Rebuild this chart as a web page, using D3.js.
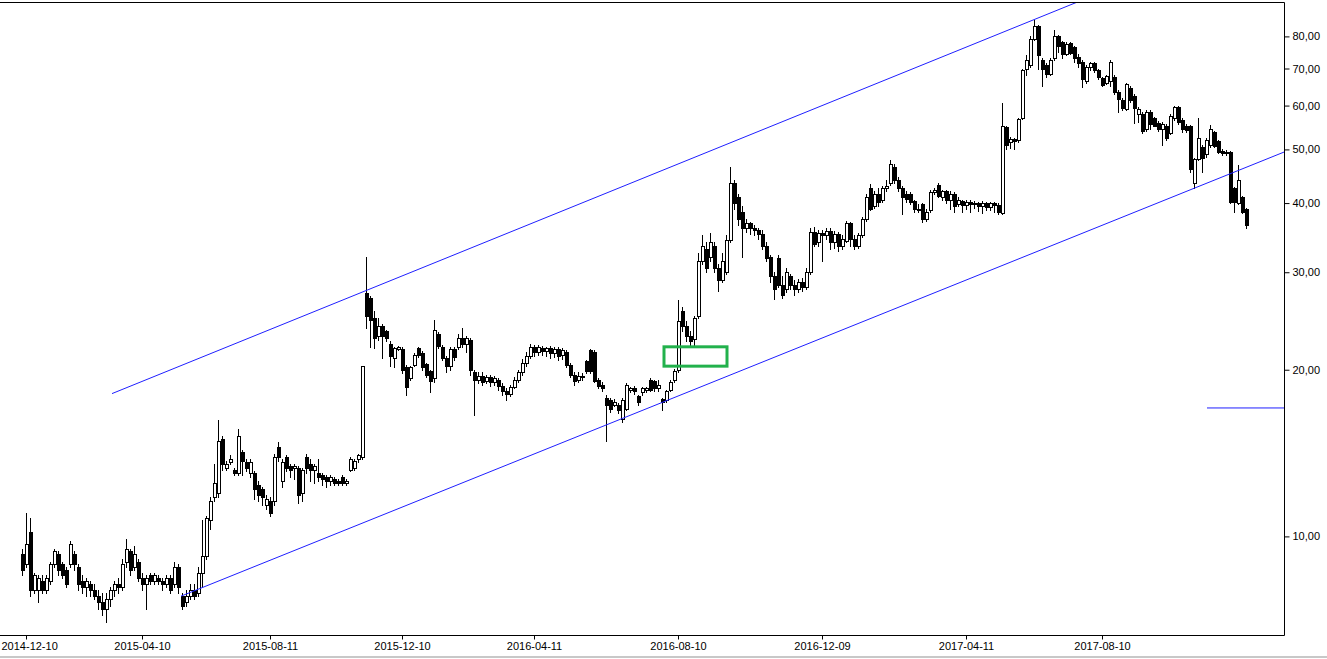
<!DOCTYPE html>
<html><head><meta charset="utf-8">
<script src="https://cdn.jsdelivr.net/npm/d3@7"></script>
<style>
html,body{margin:0;padding:0;background:#fff;overflow:hidden;}
svg{display:block;}
.axis text{font-family:"Liberation Sans",Arial,sans-serif;font-size:11px;fill:#000;}
</style></head><body>
<svg id="chart" width="1327" height="659"></svg>
<script>
// ---- data (bar index based, one candle per trading session) ----
const open=[
9.3,8.9,10.2,8.0,8.0,8.3,8.0,8.3,8.9,9.3,
8.9,8.7,8.9,9.3,8.8,8.3,8.1,8.2,8.0,7.8,
7.6,7.4,7.7,8.0,8.2,8.1,9.0,9.4,8.8,9.0,
8.4,8.2,8.5,8.3,8.4,8.3,8.2,8.4,8.2,8.8,
7.8,7.6,7.8,8.0,7.9,8.6,9.2,10.7,11.8,12.0,
15.0,13.3,13.6,13.2,13.0,14.2,13.6,13.0,13.0,12.4,
12.2,11.4,11.6,11.6,14.5,12.6,13.9,13.4,13.3,13.3,
12.0,13.9,13.5,13.2,13.0,12.9,12.8,12.6,12.7,12.6,
12.8,12.5,13.2,13.3,13.8,13.9,27.5,26.9,24.8,23.0,
24.0,23.5,22.3,21.0,21.8,21.8,20.2,19.3,20.4,21.9,
21.4,20.5,19.9,19.3,23.2,22.0,21.0,20.3,21.8,22.0,
22.8,22.3,22.6,19.8,19.2,19.5,19.1,19.4,19.0,19.2,
18.7,18.3,18.1,18.6,19.2,19.8,20.6,21.2,22.0,21.5,
21.9,21.6,21.9,21.4,21.8,21.3,21.5,20.4,19.6,19.2,
19.5,20.7,21.7,21.5,19.2,18.8,17.8,17.6,17.3,17.3,
16.3,17.0,18.4,18.5,17.9,18.2,18.4,19.2,19.1,18.5,
17.7,17.6,18.4,19.2,20.0,25.5,24.0,23.0,22.7,25.0,
31.5,33.0,32.0,33.5,30.5,29.0,30.0,34.3,43.5,41.0,
38.5,36.0,36.8,36.0,35.8,35.2,33.5,32.0,29.5,31.8,
28.5,28.0,29.5,28.5,28.0,28.8,28.2,30.0,35.5,34.0,
35.3,35.0,35.6,34.0,35.2,33.5,34.2,36.8,34.5,33.5,
35.0,37.5,42.5,39.5,41.5,40.5,42.5,43.5,46.5,44.0,
42.5,41.5,41.5,40.3,39.0,39.8,37.5,38.8,41.8,43.2,
41.0,42.0,40.5,41.5,39.8,40.3,39.6,40.2,39.8,40.0,
39.5,40.0,39.3,40.0,39.6,38.4,54.8,51.5,52.2,52.0,
57.0,70.0,71.0,79.0,83.5,72.5,71.0,68.5,73.0,80.0,
78.0,74.5,77.8,76.5,73.5,72.0,66.5,70.5,71.5,69.5,
67.2,66.0,66.5,67.5,63.5,61.5,59.2,64.5,62.5,58.0,
58.0,54.5,58.5,57.0,55.8,54.5,55.0,53.5,57.0,59.6,
56.5,55.0,55.0,43.5,48.0,50.5,49.0,51.0,53.7,51.8,
49.6,49.5,49.5,42.5,40.0,41.0,39.0];
const high=[
9.5,11.0,10.8,8.6,8.5,8.5,8.5,9.0,9.5,9.4,
9.0,8.8,9.8,9.4,8.9,8.5,8.4,8.3,8.2,8.0,
7.9,7.9,8.1,8.3,8.4,9.1,9.9,9.5,9.6,9.1,
8.6,8.5,8.6,8.6,8.5,8.4,8.5,8.5,9.0,8.9,
7.9,8.0,8.2,8.2,8.8,10.7,10.9,11.8,13.5,16.2,
15.2,13.7,14.0,13.3,15.6,14.3,13.8,13.8,13.1,12.6,
12.3,11.9,11.8,14.1,14.8,13.8,14.0,13.5,13.5,13.4,
13.3,14.1,13.8,13.5,13.8,13.0,12.9,12.9,12.8,12.7,
12.9,12.7,13.9,13.8,14.1,20.3,31.9,27.2,25.5,24.8,
24.2,23.6,22.5,22.0,22.1,22.0,20.4,20.3,21.4,22.0,
21.6,20.6,20.0,24.6,23.4,22.2,21.2,22.0,22.0,23.2,
23.8,23.0,22.8,20.0,19.8,19.8,19.6,19.6,19.5,19.3,
18.9,18.5,18.8,19.4,20.0,20.9,21.5,22.3,22.2,22.2,
22.1,22.0,22.1,22.0,22.0,21.9,21.7,20.6,19.8,19.8,
19.7,20.8,21.8,21.7,19.3,19.0,18.0,17.8,17.7,17.4,
17.8,18.9,18.6,18.7,18.0,18.6,18.6,19.3,19.2,19.2,
17.8,18.4,19.2,20.1,26.7,26.0,24.5,23.5,25.0,32.5,
35.0,34.0,35.3,34.0,31.0,32.5,35.0,46.5,44.0,41.5,
39.5,37.5,37.0,36.5,36.0,35.8,34.0,32.2,30.0,32.2,
29.5,30.5,29.8,29.0,29.2,29.3,30.5,36.0,36.2,35.8,
35.8,36.0,36.0,35.6,35.5,35.0,37.2,37.0,35.0,35.3,
37.8,41.5,43.3,42.0,42.5,43.0,44.0,47.8,47.0,44.5,
43.0,42.0,41.8,40.5,39.8,40.0,39.0,42.2,42.5,43.5,
42.3,42.3,42.0,41.8,41.0,40.5,40.5,40.5,40.3,40.2,
40.4,40.2,40.2,40.2,40.0,60.7,55.0,52.6,52.5,57.0,
70.0,74.0,80.0,85.6,84.0,73.0,71.5,73.0,82.0,80.5,
78.5,78.0,78.0,77.0,74.2,72.5,71.0,72.0,72.0,70.0,
67.6,68.2,72.5,68.0,64.0,62.0,65.8,65.0,63.0,59.6,
58.3,59.0,59.0,57.3,56.2,56.0,55.5,58.0,60.0,60.0,
57.0,55.5,55.3,48.3,57.0,51.0,52.5,55.3,54.0,52.0,
50.0,49.8,49.6,42.8,46.8,41.2,39.2];
const low=[
8.5,8.8,7.8,7.9,7.6,7.9,7.9,8.2,8.8,8.5,
8.4,8.1,8.8,8.7,8.0,7.9,7.8,7.8,7.7,7.4,
7.2,7.0,7.5,7.8,7.9,8.0,8.8,8.5,8.7,8.3,
8.0,7.4,8.2,8.2,8.2,8.0,8.1,7.9,8.1,7.9,
7.4,7.5,7.7,7.7,7.8,8.1,9.1,10.3,11.6,11.8,
13.2,13.2,13.5,12.9,12.9,12.9,13.1,12.8,11.7,11.6,
11.4,11.2,10.9,11.4,13.7,12.3,13.1,12.8,12.7,11.5,
11.6,13.0,12.6,12.5,12.6,12.4,12.3,12.4,12.4,12.4,
12.4,12.4,13.1,13.2,13.6,13.8,23.8,22.0,21.9,22.6,
21.0,22.5,20.3,20.2,21.7,19.7,18.0,19.2,20.3,21.1,
20.0,19.4,18.2,19.0,21.9,20.8,19.8,20.0,20.8,21.8,
22.0,21.5,19.6,16.6,18.9,18.8,18.9,18.7,18.8,18.4,
18.0,17.6,17.9,18.5,19.0,19.6,20.3,21.0,21.2,21.3,
21.3,21.2,21.0,21.1,20.8,20.9,20.2,19.4,18.8,19.0,
19.2,19.7,19.7,19.0,18.5,18.3,14.9,16.8,17.2,16.7,
16.1,16.9,18.2,18.1,17.3,18.0,18.2,18.3,18.3,18.3,
16.9,17.5,18.3,19.0,19.8,23.5,22.5,22.0,22.2,24.8,
31.0,30.0,31.5,30.0,27.7,28.8,29.8,34.0,39.0,36.5,
32.0,35.5,35.2,35.0,34.5,33.0,31.5,28.8,26.8,28.2,
27.0,27.6,28.0,27.3,27.6,27.8,28.0,29.8,33.5,33.5,
31.5,34.5,33.0,33.2,32.8,33.0,34.0,33.5,33.0,33.2,
34.8,37.2,38.8,39.2,39.5,40.2,42.0,43.2,43.5,42.0,
38.2,40.2,39.8,38.6,38.5,37.0,37.2,38.5,41.5,41.0,
40.5,40.0,39.0,38.5,39.5,38.6,39.0,38.6,39.2,38.7,
38.4,38.8,38.8,38.5,38.2,38.2,50.0,50.2,50.0,51.5,
56.8,68.0,70.5,78.8,70.0,65.2,67.5,68.0,72.5,75.0,
73.0,74.0,74.3,72.0,70.5,64.8,66.0,69.5,69.0,67.0,
65.0,65.5,65.0,63.0,58.4,59.0,59.0,61.0,55.8,56.0,
53.6,54.0,54.5,55.0,54.0,51.0,52.0,53.2,56.5,55.5,
53.8,53.8,45.5,42.5,47.8,45.5,48.5,50.5,50.5,49.2,
48.8,48.8,40.0,38.5,39.8,38.4,36.1];
const close=[
8.7,9.7,8.0,8.5,8.4,8.0,8.4,8.9,9.4,8.7,
8.5,8.2,9.7,8.9,8.2,8.1,8.3,8.0,7.8,7.6,
7.4,7.7,8.0,8.2,8.1,8.9,9.5,8.7,9.3,8.4,
8.2,8.4,8.3,8.5,8.3,8.2,8.4,8.0,8.8,8.1,
7.5,7.8,8.0,7.8,8.6,9.2,10.8,11.6,12.5,14.9,
13.5,13.5,13.8,13.0,15.2,13.7,13.3,13.6,12.2,11.9,
11.8,11.7,11.0,13.9,13.9,13.6,13.3,13.2,13.4,11.9,
13.2,13.3,13.2,13.4,12.8,12.7,12.6,12.8,12.5,12.5,
12.5,12.6,13.8,13.7,14.0,20.3,25.0,24.6,22.8,24.0,
23.0,22.8,21.2,21.9,22.0,20.0,18.6,20.2,21.3,21.3,
20.2,19.6,19.1,23.6,22.1,21.0,20.3,21.8,21.1,22.8,
22.3,22.8,20.0,19.2,19.5,19.0,19.4,19.0,19.3,18.7,
18.3,18.1,18.6,19.2,19.8,20.6,21.2,22.0,21.5,22.0,
21.6,21.9,21.4,21.8,21.2,21.7,20.4,19.6,19.1,19.5,
19.4,19.9,19.9,19.1,18.7,18.5,17.3,17.0,17.5,16.9,
17.6,18.8,18.5,18.3,17.5,18.5,18.5,18.4,18.5,18.8,
17.5,18.3,19.0,19.9,24.5,24.0,23.0,22.5,24.8,31.5,
33.5,30.5,34.0,30.5,29.0,31.5,34.3,43.5,40.0,37.5,
36.0,36.8,36.0,35.8,35.2,33.5,31.8,29.5,28.0,28.5,
27.3,30.0,28.5,28.0,28.8,28.2,30.0,35.5,33.8,35.3,
35.0,35.6,34.0,35.2,33.5,34.5,36.8,34.5,33.5,35.0,
37.5,41.0,39.0,41.5,40.2,42.5,43.0,47.0,44.0,42.5,
41.0,40.6,40.2,39.0,38.8,37.5,38.5,41.8,42.2,41.2,
42.0,40.5,41.5,39.5,40.5,39.6,40.2,39.8,40.0,39.5,
40.0,39.3,40.0,39.6,38.5,55.0,51.0,52.2,51.8,56.8,
69.5,72.5,79.0,83.5,74.0,70.0,68.5,72.5,80.0,77.0,
74.5,77.5,74.8,73.0,71.5,67.0,70.5,71.5,69.5,67.5,
65.3,67.8,72.0,63.5,61.6,59.5,65.5,61.5,59.5,59.2,
54.0,58.5,55.5,55.2,54.5,55.5,52.5,57.5,59.6,56.0,
54.5,54.2,46.0,48.0,52.5,48.2,52.0,54.5,50.8,49.5,
49.3,49.2,40.2,40.2,44.0,38.6,36.5];

// x-axis labels and the bar index they sit on
const xTickIndex=[1,30,62,95,128,164,200,236,270];
const xTickLabels=["2014-12-10","2015-04-10","2015-08-11","2015-12-10","2016-04-11","2016-08-10","2016-12-09","2017-04-11","2017-08-10"];
// y-axis (price, log scale)
const yTicks=[10,20,30,40,50,60,70,80];

// annotations in data units: [bar index, price]
const upperChannel=[[22.5,18.11],[264.5,92.7]];
const lowerChannel=[[39.75,7.80],[315.5,49.45]];
const supportLine=[[296.25,17.06],[315.5,17.06]];
const boxIndex=[160.5,176.25];
const boxPrice=[20.3,22.0];

// ---- layout ----
const W=1327,H=659;
const plotL=0,plotR=1284,plotT=2,plotB=635;
const svg=d3.select("#chart");

const x=d3.scaleLinear().domain([-5.5,315.5]).range([plotL,plotR]);
const y=d3.scaleLog().domain([10,80]).range([536.4,36.4]);

svg.append("defs").append("clipPath").attr("id","clip")
  .append("rect").attr("x",plotL).attr("y",plotT).attr("width",plotR-plotL).attr("height",plotB-plotT);

const plot=svg.append("g").attr("clip-path","url(#clip)");

const bars=close.map((c,i)=>({i,o:open[i],h:high[i],l:low[i],c}));

const g=plot.append("g");
bars.forEach(d=>{
  const cx=Math.round(x(d.i));
  const yh=Math.round(y(d.h)), yl=Math.round(y(d.l));
  const yo=Math.round(y(d.o)), yc=Math.round(y(d.c));
  g.append("line").attr("x1",cx+0.5).attr("x2",cx+0.5)
    .attr("y1",yh).attr("y2",yl+1)
    .attr("stroke","#000").attr("stroke-width",1);
  const top=Math.min(yo,yc), bot=Math.max(yo,yc);
  g.append("rect").attr("x",cx-0.5).attr("y",top+0.5)
    .attr("width",3).attr("height",Math.max(0,bot-top))
    .attr("fill",d.c>=d.o?"#fff":"#000")
    .attr("stroke","#000").attr("stroke-width",1);
});

const lineGen=d3.line().x(p=>x(p[0])).y(p=>y(p[1]));
[upperChannel,lowerChannel,supportLine].forEach(seg=>{
  plot.append("path").attr("d",lineGen(seg))
    .attr("fill","none").attr("stroke","#1f1fff").attr("stroke-width",1);
});

plot.append("rect")
  .attr("x",x(boxIndex[0])).attr("y",y(boxPrice[1]))
  .attr("width",x(boxIndex[1])-x(boxIndex[0]))
  .attr("height",y(boxPrice[0])-y(boxPrice[1]))
  .attr("fill","none").attr("stroke","#22b14c").attr("stroke-width",3);

// frame
svg.append("path")
  .attr("d",`M${plotL},${plotT+0.5}H${plotR+0.5}V${plotB+0.5}H${plotL}`)
  .attr("fill","none").attr("stroke","#000").attr("stroke-width",1);

// axes
const fmt=v=>d3.format(".2f")(v).replace(".",",");
const yAxis=svg.append("g").attr("class","axis")
  .attr("transform",`translate(${plotR+0.5},0)`)
  .call(d3.axisRight(y).tickValues(yTicks).tickSize(5).tickPadding(3).tickFormat(fmt));
yAxis.select(".domain").remove();

const xAxis=svg.append("g").attr("class","axis")
  .attr("transform",`translate(0,${plotB+0.5})`)
  .call(d3.axisBottom(x).tickValues(xTickIndex).tickSize(4).tickPadding(3)
    .tickFormat((d,i)=>xTickLabels[i]));
xAxis.select(".domain").remove();
svg.selectAll(".axis .tick line").attr("stroke","#000");
// keep the first date label inside the window (it starts at the left edge)
xAxis.selectAll(".tick text").filter((d,i)=>i===0)
  .attr("text-anchor","start").attr("x",-Math.round(x(xTickIndex[0])) + 1);

// bottom grey separator
svg.append("rect").attr("x",0).attr("y",656).attr("width",W).attr("height",2).attr("fill","#c8c8c8");
</script>
</body></html>
